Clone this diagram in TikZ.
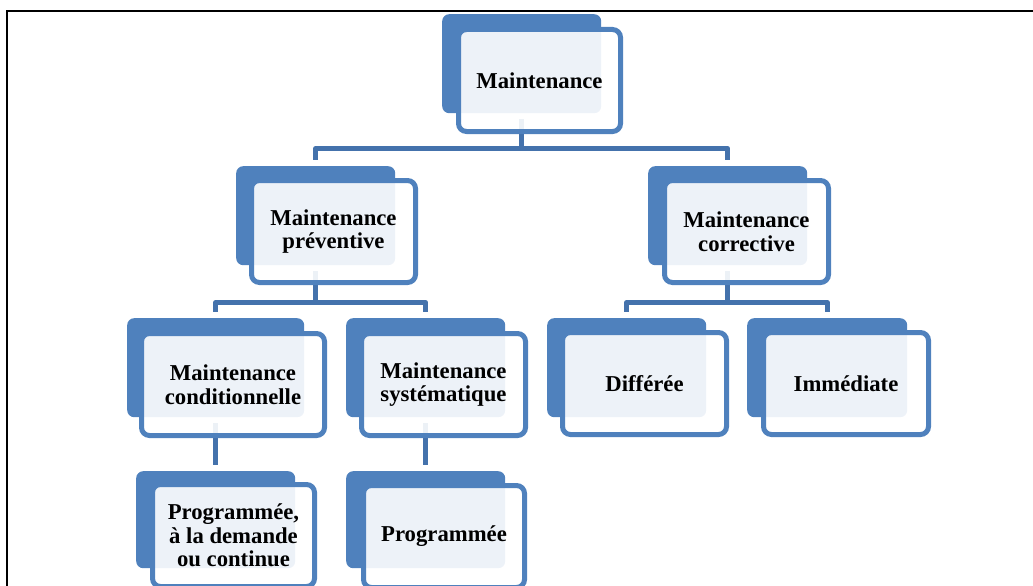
\documentclass[tikz,border=0pt]{standalone}
\usepackage{fontspec}
\setmainfont{Liberation Serif}
\usetikzlibrary{positioning}
\definecolor{bleu}{HTML}{4F81BD}
\definecolor{bleulien}{HTML}{4472AC}
\tikzset{
  fond/.style={rectangle, rounded corners=7pt, fill=bleu, inner sep=0pt, minimum height=99pt, anchor=north west},
  cadre/.style={rectangle, rounded corners=8pt, draw=bleu, line width=5pt, fill=white, fill opacity=0.9, text opacity=1,
    minimum height=102pt, anchor=north west, align=center, font=\bfseries\fontsize{22.7}{23.5}\selectfont},
  lien/.style={draw=bleulien, line width=5pt, line join=round, shorten <=6pt, shorten >=6pt},
}
\begin{document}
\begin{tikzpicture}[x=1pt,y=-1pt]
\useasboundingbox (0,0) rectangle (1033,586);
\clip (0,0) rectangle (1033,586);
\draw[line width=2pt] (7,590) -- (7,11) -- (1040,11);
% blocs du fond
\node[fond, minimum width=159pt] (maint) at (442,14) {};
\node[fond, minimum width=159pt] (prev) at (236,166) {};
\node[fond, minimum width=159pt] (corr) at (648,166) {};
\node[fond, minimum width=177pt] (cond) at (127,318) {};
\node[fond, minimum width=159pt] (syst) at (346,318) {};
\node[fond, minimum width=159pt] (diff) at (547,318) {};
\node[fond, minimum width=160pt] (imm) at (747,318) {};
\node[fond, minimum width=159pt, minimum height=97pt] (prog1) at (136,471) {};
\node[fond, minimum width=159pt, minimum height=97pt] (prog2) at (346,471) {};
% liens
\draw[lien] (maint.south) -- ++(0,35) -| (prev.north);
\draw[lien] (maint.south) -- ++(0,35) -| (corr.north);
\draw[lien] (prev.south) -- ++(0,37) -| (cond.north);
\draw[lien] (prev.south) -- ++(0,37) -| (syst.north);
\draw[lien] (corr.south) -- ++(0,37) -| (diff.north);
\draw[lien] (corr.south) -- ++(0,37) -| (imm.north);
\draw[lien] (cond.south) -- (prog1.north);
\draw[lien] (syst.south) -- (prog2.north);
% cadres avec texte
\node[cadre, minimum width=162pt] (maintF) at ([shift={(14,13)}]maint.north west) {Maintenance};
\node[cadre, minimum width=164pt] (prevF) at ([shift={(13,12)}]prev.north west) {Maintenance\\préventive};
\node[cadre, minimum width=164pt] (corrF) at ([shift={(14,12)}]corr.north west) {Maintenance\\corrective};
\node[cadre, minimum width=183pt] (condF) at ([shift={(12,13)}]cond.north west) {Maintenance\\conditionnelle};
\node[cadre, minimum width=164pt] (systF) at ([shift={(13,13)}]syst.north west) {Maintenance\\systématique};
\node[cadre, minimum width=164pt] (diffF) at ([shift={(13,12)}]diff.north west) {Différée};
\node[cadre, minimum width=165pt] (immF) at ([shift={(14,12)}]imm.north west) {Immédiate};
\node[cadre, minimum width=162pt] (prog1F) at ([shift={(14,11)}]prog1.north west) {Programmée,\\à la demande\\ou continue};
\node[cadre, minimum width=161pt] (prog2F) at ([shift={(15,12)}]prog2.north west) {Programmée};
\end{tikzpicture}
\end{document}
